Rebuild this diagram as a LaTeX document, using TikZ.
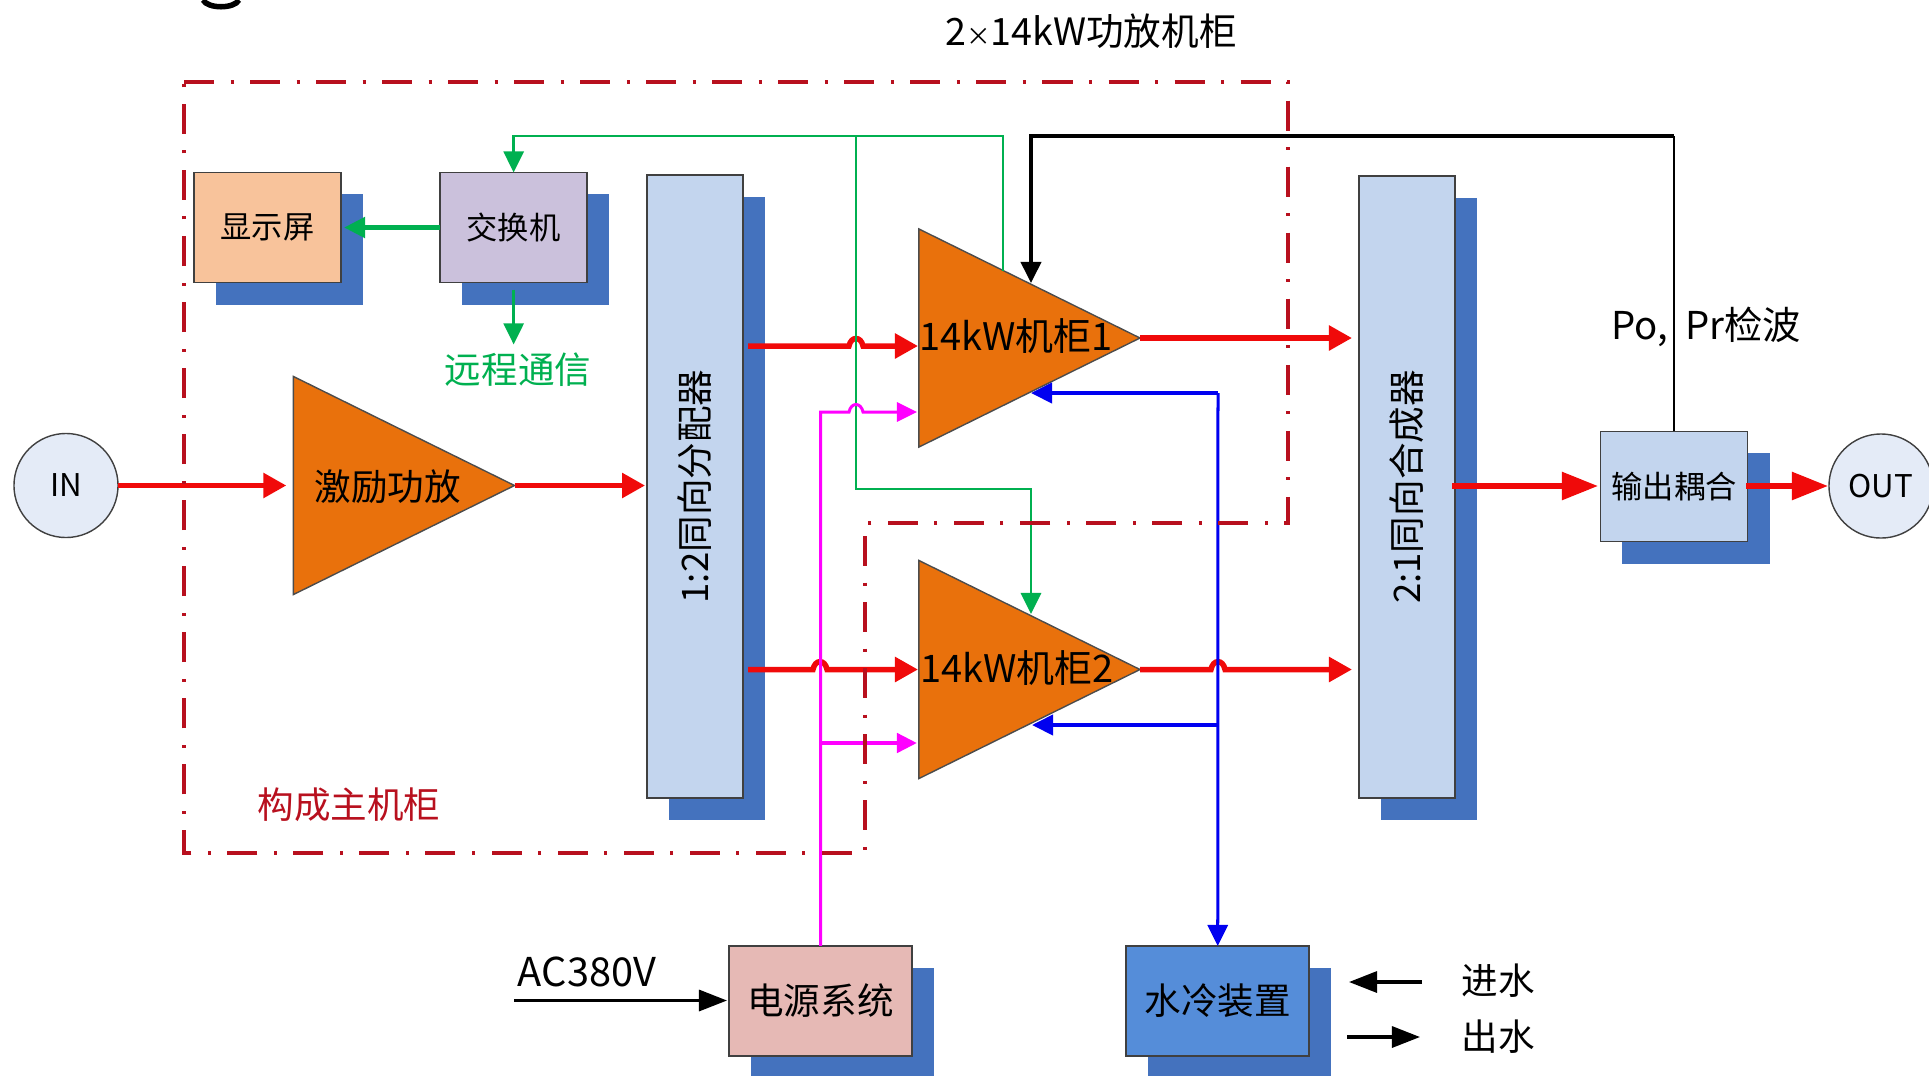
\documentclass[tikz,border=0pt]{standalone}
\usepackage{fontspec}
\setmainfont{Noto Sans CJK SC}
\usetikzlibrary{arrows.meta, positioning, shapes.geometric, shadows}
\definecolor{framered}{HTML}{B8101E}
\definecolor{shadowblue}{HTML}{4472BE}
\definecolor{ampfill}{HTML}{E9710C}
\definecolor{barfill}{HTML}{C3D5EE}
\definecolor{portfill}{HTML}{E4EBF7}
\definecolor{netgreen}{HTML}{00B050}
\definecolor{feedpink}{HTML}{FF00FF}
\definecolor{purered}{HTML}{F00A0A}
\definecolor{pureblue}{HTML}{0000F0}
\definecolor{displayfill}{HTML}{F8C39B}
\definecolor{switchfill}{HTML}{CBC1DC}
\definecolor{supplyfill}{HTML}{E6B9B5}
\definecolor{coolerfill}{HTML}{558DD9}
\begin{document}
\begin{tikzpicture}[
    x=0.01cm, y=-0.01cm,
    >=Stealth,
    txt/.style={inner sep=0pt, font=\fontsize{10.4}{12}\selectfont},
    panel/.style={draw=black!75, line width=0.5pt, inner sep=0pt, outer sep=0pt,
                  minimum width=1.47cm, minimum height=1.1cm,
                  drop shadow={shadow xshift=0.22cm, shadow yshift=-0.22cm,
                               fill=shadowblue, opacity=1}},
    bar/.style={panel, fill=barfill, minimum width=0.96cm, minimum height=6.22cm,
                font=\fontsize{10.4}{12}\selectfont},
    unit/.style={panel, minimum width=1.83cm, font=\fontsize{10.4}{12}\selectfont},
    amp/.style={draw=black!70, fill=ampfill, line width=0.4pt, inner sep=0pt, outer sep=0pt,
                isosceles triangle, isosceles triangle stretches,
                minimum width=2.18cm, minimum height=2.21cm, anchor=apex},
    port/.style={draw=black!75, fill=portfill, circle, line width=0.4pt, inner sep=0pt,
                 outer sep=0pt, minimum size=1.04cm, font=\fontsize{8.9}{11}\selectfont},
    rf/.style={draw=purered, line width=0.055cm,
               -{Triangle[length=0.23cm, width=0.24cm]}},
    rfbig/.style={rf, -{Triangle[length=0.36cm, width=0.27cm]}},
    ctrl/.style={draw=netgreen, line width=0.028cm,
                 -{Triangle[length=0.21cm, width=0.2cm]}},
    power/.style={draw=feedpink, line width=0.03cm,
                  -{Triangle[length=0.2cm, width=0.19cm]}},
    coolant/.style={draw=pureblue, line width=0.03cm,
                    -{Triangle[length=0.21cm, width=0.2cm]}},
    sense/.style={draw=black, line width=0.038cm,
                  -{Triangle[length=0.21cm, width=0.2cm]}},
    wire/.style={draw=black, line width=0.032cm,
                 -{Triangle[length=0.28cm, width=0.21cm]}},
    frame/.style={draw=framered, line width=0.038cm,
                  dash pattern=on 0.3cm off 0.165cm on 0.03cm off 0.165cm}
  ]
  \useasboundingbox (0,0) rectangle (1929,1075);

  % glyph cut off by the top edge
  \draw[line width=0.055cm] (203,0) .. controls (208,9) and (234,9) .. (239,0);

  \node[port] (in) at (66,485.5) {IN};
  \node[amp] (exciter) at (514.5,485.5) {};
  \node[txt] (excitertext) at (388,487) {激励功放};
  \node[bar, right=1.325cm of exciter.apex, yshift=-0.01cm] (splitter) {\rotatebox{90}{1:2同向分配器}};

  \node[panel, fill=displayfill, font=\fontsize{8.9}{11}\selectfont] (display) at (267.5,227.5) {显示屏};
  \node[panel, fill=switchfill, right=0.99cm of display, font=\fontsize{8.9}{11}\selectfont] (switch) {交换机};
  \node[txt, text=netgreen] (remote) at (518,370) {远程通信};

  \node[amp] (ampa) at (1140,338) {};
  \node[txt, font=\fontsize{10.8}{12}\selectfont] (ampatext) at (1016,336) {14kW机柜1};
  \node[amp] (ampb) at (1140,669.5) {};
  \node[txt, font=\fontsize{10.8}{12}\selectfont] (ampbtext) at (1017,668) {14kW机柜2};

  \node[bar] (combiner) at (1407,487) {\rotatebox{90}{2:1同向合成器}};
  \node[panel, fill=barfill, font=\fontsize{8.9}{11}\selectfont] (coupler) at (1674,486.5) {输出耦合};
  \node[port] (out) at (1881,486) {OUT};

  \node[unit, fill=supplyfill] (supply) at (820.5,1001) {电源系统};
  \node[unit, fill=coolerfill, right=2.14cm of supply] (cooler) {水冷装置};

  \node[txt, font=\fontsize{11.3}{13}\selectfont] (acin) at (587,972) {AC380V};
  \node[txt, font=\fontsize{10.7}{12}\selectfont] (title) at (1091,31) {2{\fontsize{7}{8}\selectfont ×}14kW功放机柜};
  \node[txt, font=\fontsize{10.9}{13}\selectfont] (detect) at (1706,327) {Po,\ \ Pr检波};
  \node[txt, text=framered] (mainlabel) at (349,805) {构成主机柜};
  \node[txt] (waterin) at (1498,981) {进水};
  \node[txt] (waterout) at (1498,1037) {出水};

  \coordinate (splitouta) at (748,346);
  \coordinate (ampain) at (918,346);
  \coordinate (splitoutb) at (748,669.5);
  \coordinate (ampbin) at (918,669.5);
  \coordinate (combinerina) at (1352,338);
  \coordinate (combinerinb) at (1352,669.5);
  \coordinate (combinerout) at (1452,486);
  \coordinate (couplerin) at (1598,486);
  \coordinate (couplerout) at (1746,486);
  \coordinate (outin) at (1828,486);
  \coordinate (acstart) at (514,1000.5);
  \coordinate (acend) at (727,1000.5);
  \coordinate (wateringo) at (1422,982);
  \coordinate (wateringoend) at (1349,982);
  \coordinate (waterback) at (1347,1037);
  \coordinate (waterbackend) at (1420,1037);
  \coordinate (ampaswitch) at (1003,271);
  \coordinate (ampasense) at (1031,283);
  \coordinate (ampbswitch) at (1031,614);
  \coordinate (ampacool) at (1031,393);
  \coordinate (ampbcool) at (1032,725);
  \coordinate (ampapower) at (917,412);
  \coordinate (ampbpower) at (917,743);

  % rf chain
  \draw[rf, shorten >=0.07cm] (in.east) -- (exciter.west);
  \draw[rf, shorten >=0.02cm] (exciter.apex) -- (exciter.apex -| splitter.west);
  \draw[rf] (splitouta) -- (849,346) .. controls (851,336) and (861,336) .. (863,346) -- (ampain);
  \draw[rf] (splitoutb) -- (813,669.5) .. controls (815,659) and (825,659) .. (827,669.5) -- (ampbin);
  \draw[rf] (ampa.apex) -- (combinerina);
  \draw[rf] (ampb.apex) -- (1211,669.5) .. controls (1213,659) and (1223,659) .. (1225,669.5) -- (combinerinb);
  \draw[rfbig] (combinerout) -- (couplerin);
  \draw[rfbig] (couplerout) -- (outin);

  % control network
  \draw[ctrl] (ampaswitch) -- (1003,136) -| (switch.north);
  \draw[ctrl, line width=0.05cm, shorten >=0.03cm] (switch.west) -- (display.east);
  \draw[ctrl, shorten <=0.07cm, shorten >=0.08cm] (switch.south) -- (switch.south |- remote.north);
  \draw[ctrl] (856,136) -- (856,489) -| (ampbswitch);

  % power feed
  \draw[power] (supply.north) -- (820.5,412) -- (849,412) .. controls (851,402) and (861,402) .. (863,412) -- (ampapower);
  \draw[power, line width=0.045cm] (820.5,743) -- (ampbpower);

  % cooling loop
  \draw[coolant, line width=0.04cm] (1218,393) -- (ampacool);
  \draw[coolant] (1218,393) -- (cooler.north);
  \draw[coolant, line width=0.04cm] (1218,725) -- (ampbcool);

  % power detect
  \draw[black, line width=0.02cm] (coupler.north) -- (1674,136);
  \draw[sense] (1674,136) -| (ampasense);

  % supply and water
  \draw[wire] (acstart) -- (acend);
  \draw[wire] (wateringo) -- (wateringoend);
  \draw[wire] (waterback) -- (waterbackend);

  \draw[frame] (184,82) -- (1288,82) -- (1288,523) -- (865,523) -- (865,853) -- (184,853) -- cycle;
\end{tikzpicture}
\end{document}
